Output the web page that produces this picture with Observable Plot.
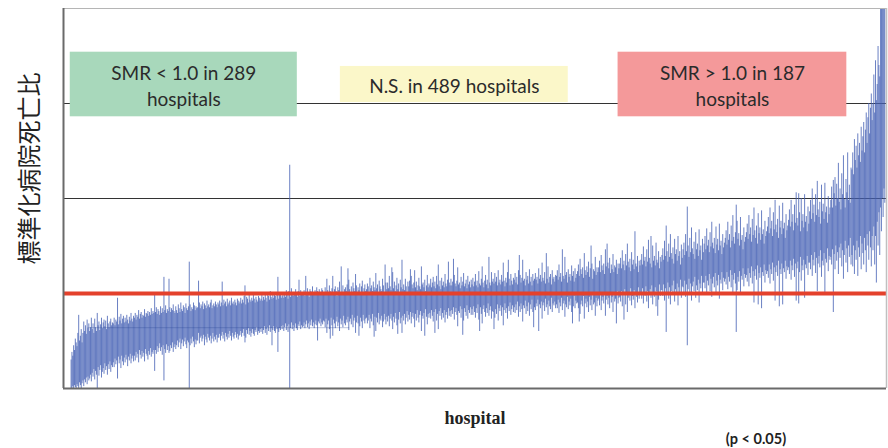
<!DOCTYPE html>
<html><head><meta charset="utf-8">
<script src="https://cdn.jsdelivr.net/npm/d3@7"></script>
<script src="https://cdn.jsdelivr.net/npm/@observablehq/plot@0.6"></script>
<style>body{margin:0;background:#fff;} #chart{width:888px;height:448px;}</style>
</head><body><div id="chart"></div>
<script>
// Lower / upper 95% CI of SMR (x100), hospitals sorted by SMR
const lo = [
0,0,2,0,3,1,0,4,2,0,6,3,0,5,8,2,9,6,11,4,12,8,10,14,7,
16,12,20,9,18,14,0,22,13,19,24,11,17,21,15,26,19,23,14,25,20,28,17,24,22,
27,22,31,25,29,10,33,26,30,21,34,28,24,32,27,35,30,23,33,29,36,26,31,34,28,
34,29,38,32,36,27,40,35,31,39,33,37,28,41,36,34,30,39,35,42,33,38,36,40,18,
40,36,44,38,42,47,39,43,35,45,8,41,37,46,40,44,37,39,45,42,48,38,43,46,41,
45,50,43,48,52,41,47,51,44,49,53,46,42,50,48,0,45,52,47,54,49,43,51,46,50,
50,58,47,53,55,49,52,56,45,54,51,48,57,53,50,55,47,52,58,49,54,51,56,48,53,
53,57,50,55,59,52,56,49,58,54,51,57,53,60,55,50,58,54,52,56,59,53,57,51,55,
56,60,54,58,62,55,48,53,61,57,63,56,60,54,58,62,57,55,61,59,64,56,60,58,62,
59,63,57,61,65,58,62,56,64,60,66,59,63,45,61,65,60,58,64,62,38,59,63,61,65,
62,66,60,64,68,61,65,59,67,0,63,69,62,66,60,64,68,63,61,67,65,70,62,66,64,
65,69,63,67,71,64,68,62,70,66,72,65,69,63,67,71,66,50,70,68,73,65,69,67,71,
70,64,73,58,67,71,62,52,74,66,55,72,68,63,70,75,65,69,60,73,67,71,64,76,68,
66,72,69,75,61,70,73,67,77,64,71,74,58,69,76,68,55,65,74,70,63,77,71,68,73,
74,68,71,77,63,73,70,78,66,54,75,60,74,69,79,67,73,71,76,64,70,78,72,67,75,
70,76,65,73,78,71,62,75,69,79,73,66,57,72,80,68,74,58,76,71,78,67,74,81,70,
77,72,80,68,75,79,73,64,78,71,82,74,69,77,81,60,76,73,79,55,83,75,67,78,74,
79,73,82,76,70,80,58,83,71,78,62,81,76,84,72,79,74,82,69,77,80,73,84,76,81,
75,82,78,85,72,80,84,77,65,81,79,86,74,83,56,71,84,80,76,87,73,82,79,85,77,
83,77,86,80,74,84,79,88,72,60,85,78,68,83,87,80,75,84,79,89,76,82,86,73,81,
80,62,74,83,78,88,71,84,81,87,76,85,66,82,89,79,84,73,86,81,90,77,83,87,80,
85,79,88,82,91,75,86,80,89,83,70,87,84,92,78,86,81,90,76,88,83,93,80,64,85,
82,89,86,93,60,88,84,91,73,87,90,81,94,85,88,77,92,86,83,95,80,89,87,91,84,
88,84,93,79,90,86,95,82,89,92,75,88,85,96,83,91,87,94,80,68,86,97,84,92,89,
90,84,70,78,88,92,86,97,73,89,94,85,91,80,96,87,93,82,98,88,90,76,95,86,92,
94,87,99,82,92,96,89,100,76,93,97,88,95,84,101,90,96,80,98,91,94,68,102,89,95,
96,91,102,86,98,72,104,88,99,80,95,101,92,105,87,97,93,103,84,99,96,90,106,94,100,
99,94,105,89,101,97,107,91,102,84,98,104,95,108,88,100,96,106,86,102,76,93,109,97,103,
103,97,109,92,105,59,100,111,94,106,88,102,108,98,113,91,104,99,110,87,106,101,114,95,107,
106,101,113,96,109,45,104,115,98,110,92,107,112,102,117,95,108,103,114,90,110,105,118,99,111,
111,105,118,100,113,108,120,102,115,96,110,117,106,121,99,113,108,119,94,114,110,122,103,116,112,
115,109,122,104,117,112,124,106,119,100,114,121,110,59,103,117,112,123,98,118,114,126,107,120,116,
119,112,126,107,121,116,128,110,123,90,118,125,114,129,88,121,116,127,84,122,118,130,111,124,120,
123,116,130,110,125,120,132,113,127,92,122,129,118,134,86,125,120,131,88,126,122,134,115,128,124,
127,120,134,114,129,124,136,117,131,92,126,133,89,122,138,113,129,124,135,95,130,126,139,119,132,
132,125,140,118,135,129,143,121,137,102,131,139,127,145,117,134,129,142,98,136,132,147,123,139,135,
138,130,146,80,141,125,150,134,143,120,148,137,152,128,145,115,140,155,132,147,122,150,138,158,130,
140,128,150,120,145,135,155,118,148,138,160,125,152,142,130,158,145,122,162,150,135,165,148,128,160,
145,170,130,160,111,175,150,185,140,190,165,200,180,210,195
];
const hi = [
30,38,34,45,40,52,48,44,58,77,50,55,62,48,58,70,60,66,57,72,63,68,60,64,74,
62,68,58,73,64,60,79,66,70,61,67,74,63,69,72,65,71,62,76,68,64,70,73,66,69,
68,74,66,72,70,95,67,75,71,78,68,73,76,69,74,70,77,72,68,75,71,79,73,70,76,
74,79,72,77,75,82,73,78,80,74,77,76,83,75,79,78,81,76,80,77,84,78,81,79,98,
80,85,78,83,81,77,86,79,84,80,117,82,87,79,83,81,115,85,80,84,82,88,81,79,86,
82,79,88,84,80,90,83,81,87,85,79,89,84,82,86,133,88,81,85,83,90,87,82,86,84,
85,113,90,84,88,86,91,83,89,87,84,92,86,88,85,90,93,84,87,89,86,91,88,85,90,
88,92,86,90,112,87,93,89,91,86,94,88,90,92,87,95,89,91,88,93,90,87,94,92,89,
91,95,89,93,90,97,108,88,96,94,90,99,93,91,95,92,98,94,90,96,93,91,97,95,92,
94,98,92,96,93,100,95,91,99,97,93,102,96,94,98,95,101,97,93,99,117,94,100,98,95,
97,101,95,99,96,103,98,94,102,235,96,105,99,97,101,98,104,100,96,102,114,97,103,101,98,
99,103,97,118,98,105,100,96,104,102,98,107,101,99,103,100,106,102,98,104,101,99,105,103,100,
101,106,99,115,103,100,108,102,98,105,118,100,104,107,102,97,106,103,112,101,128,99,108,100,104,
106,102,109,126,114,104,101,107,99,111,105,102,120,108,100,106,103,110,101,107,113,100,105,109,102,
104,110,107,101,116,105,108,102,112,106,103,121,105,109,100,113,107,104,102,115,108,101,130,111,104,
111,105,118,107,103,127,122,105,112,102,108,116,104,110,101,114,106,135,104,109,103,115,107,101,112,
107,113,125,118,109,105,111,124,106,112,103,108,116,107,104,128,109,111,106,114,102,108,119,106,110,
108,115,106,111,117,107,112,105,118,109,130,107,113,104,116,108,112,106,120,110,107,114,133,111,108,
115,108,112,136,119,110,107,113,127,109,111,105,117,108,112,121,107,110,114,105,118,109,112,106,114,
109,116,107,112,120,108,113,106,123,110,108,115,128,111,106,113,119,109,114,105,138,111,108,122,112,
115,110,121,112,117,108,124,111,114,109,119,112,132,113,107,116,111,122,135,115,108,120,113,109,116,
114,121,111,117,109,124,140,119,111,116,135,113,115,108,122,114,118,110,125,112,117,108,120,113,115,
121,114,117,110,126,115,119,112,132,116,113,122,110,142,115,128,111,117,120,109,124,115,117,112,119,
118,124,114,130,117,121,112,146,118,115,138,119,122,111,125,117,120,113,129,118,123,112,126,116,120,
123,130,118,136,125,120,127,116,142,124,119,128,122,133,117,126,150,131,115,125,123,138,119,127,122,
127,134,122,140,129,124,131,120,146,128,152,132,126,137,121,130,125,141,122,129,127,135,120,131,126,
131,137,126,145,130,134,124,141,129,152,133,127,136,123,143,130,135,125,165,131,128,139,122,134,129,
135,141,130,149,134,138,128,146,133,156,137,131,160,127,150,134,139,129,153,135,132,144,126,138,133,
140,147,135,155,139,171,144,133,152,138,162,142,136,148,131,157,141,146,134,160,139,144,130,151,137,
146,153,140,162,144,191,150,138,158,143,169,147,141,154,136,164,146,152,139,167,145,150,135,157,143,
152,160,146,168,150,156,143,164,149,175,153,147,158,142,170,151,157,145,173,150,155,141,162,148,153,
158,166,151,175,156,162,148,171,155,182,159,152,164,193,176,157,163,150,180,156,161,146,169,154,159,
164,173,157,182,162,169,154,178,161,190,166,158,171,152,184,163,169,156,187,162,167,152,176,160,165,
170,180,163,190,168,176,160,185,167,198,172,164,178,158,192,169,176,162,195,168,174,158,183,166,171,
177,188,170,198,175,183,166,193,174,206,179,171,205,185,165,200,176,183,169,204,175,181,165,191,173,
186,198,178,210,184,193,175,204,182,218,188,180,196,173,214,186,194,178,216,185,191,174,202,183,190,
198,212,190,219,205,222,192,215,200,237,196,210,188,226,204,245,199,190,220,206,248,198,214,195,232,
230,248,225,262,240,255,232,268,245,258,238,275,250,265,280,248,272,290,258,285,300,268,295,310,282,
300,330,290,345,303,320,360,340,328,420,400,450,430,480,460
];
const gridLines = [2, 3];
const nullLine = [1.0];
const faintLine = [0.64];
const boxLabels = ["SMR < 1.0 in 289\nhospitals", "N.S. in 489 hospitals", "SMR > 1.0 in 187\nhospitals"];
const boxFills = ["#a8d8bb", "#fbf7c9", "#f4999a"];
// annotation box extents in data units (hospital rank, SMR)
const boxX1 = [-1, 319, 648];
const boxX2 = [268, 589, 919];
const boxY1 = [2.86, 3.01, 2.86];
const boxY2 = [3.54, 3.39, 3.54];
const yLabel = "標準化病院死亡比";
const xLabel = "hospital";
const note = "(p < 0.05)";

const hospitals = lo.map((l, i) => ({rank: i, lo: l / 100, hi: hi[i] / 100}));
const boxes = boxLabels.map((label, k) => ({label, fill: boxFills[k], x1: boxX1[k], x2: boxX2[k], y1: boxY1[k], y2: boxY2[k]}));

const chart = Plot.plot({
  width: 888, height: 448,
  marginTop: 8, marginBottom: 60, marginLeft: 63, marginRight: 2,
  x: {domain: [-9, 966], axis: null},
  y: {domain: [0, 4], axis: null},
  style: {background: "#fff", overflow: "visible"},
  marks: [
    Plot.ruleY(gridLines, {stroke: "#333", strokeWidth: 1}),
    Plot.ruleX(hospitals, {x: "rank", y1: "lo", y2: "hi", stroke: "#4661b4", strokeWidth: 0.95, strokeOpacity: 0.85, clip: true}),
    Plot.ruleY(faintLine, {x1: 20, x2: 330, stroke: "#22408f", strokeOpacity: 0.3, strokeWidth: 1}),
    Plot.ruleY(nullLine, {stroke: "#e4412c", strokeWidth: 4}),
    Plot.rect(boxes, {x1: "x1", x2: "x2", y1: "y1", y2: "y2", fill: "fill"}),
    Plot.text(boxes, {x: d => (d.x1 + d.x2) / 2, y: d => (d.y1 + d.y2) / 2, text: "label", fontFamily: "Lato", fontSize: 19, fill: "#2b2b2b", lineHeight: 1.4}),
    Plot.ruleY([4], {stroke: "#b5b5b5", strokeWidth: 1.2}),
    Plot.ruleX([966], {stroke: "#c0c0c0", strokeWidth: 1.5}),
    Plot.ruleY([0], {stroke: "#6a6a6a", strokeWidth: 2}),
    Plot.ruleX([-9], {stroke: "#6a6a6a", strokeWidth: 2}),
    Plot.text([yLabel], {frameAnchor: "left", textAnchor: "middle", lineAnchor: "middle", dx: -33, dy: -30, rotate: -90, fontSize: 24, fontFamily: "Noto Sans CJK JP", fill: "#222"}),
    Plot.text([xLabel], {frameAnchor: "bottom", lineAnchor: "middle", dy: 30, fontFamily: "Liberation Serif", fontWeight: "bold", fontSize: 18, fill: "#222"}),
    Plot.text([note], {frameAnchor: "bottom", lineAnchor: "middle", dx: 281, dy: 51, fontFamily: "Lato", fontWeight: "bold", fontSize: 14.5, fill: "#222"})
  ]
});
document.getElementById("chart").append(chart);
</script>
</body></html>
